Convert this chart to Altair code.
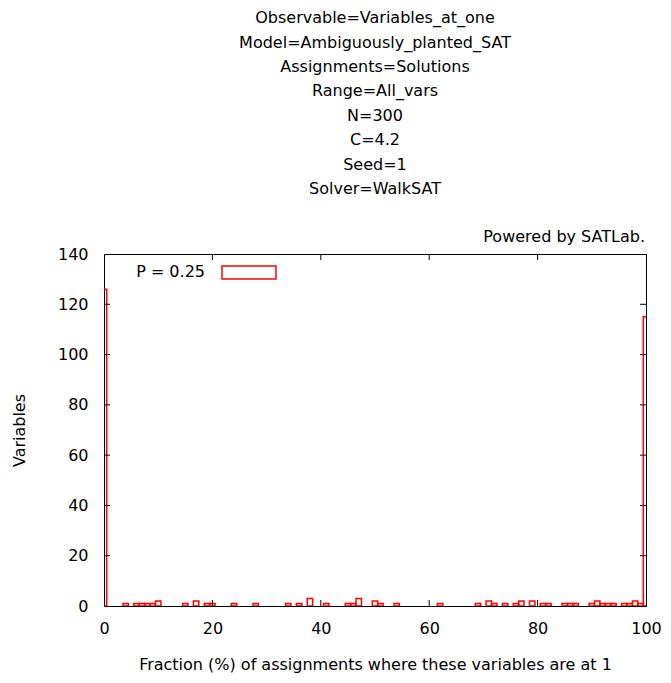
import altair as alt
import pandas as pd

# ---- data ----
title_lines = [
    "Observable=Variables_at_one",
    "Model=Ambiguously_planted_SAT",
    "Assignments=Solutions",
    "Range=All_vars",
    "N=300",
    "C=4.2",
    "Seed=1",
    "Solver=WalkSAT",
]
credit = "Powered by SATLab."
series_label = "P = 0.25"
x_title = "Fraction (%) of assignments where these variables are at 1"
y_title = "Variables"

centers = [0, 4, 6, 7, 8, 9, 10, 15, 17, 19, 20, 24, 28, 34, 36, 38, 41, 45, 46, 47,
           50, 51, 54, 62, 69, 71, 72, 74, 76, 77, 79, 81, 82, 85, 86, 87, 90, 91, 92,
           93, 94, 96, 97, 98, 99, 100]
counts = [126, 1, 1, 1, 1, 1, 2, 1, 2, 1, 1, 1, 1, 1, 1, 3, 1, 1, 1, 3,
          2, 1, 1, 1, 1, 2, 1, 1, 1, 2, 2, 1, 1, 1, 1, 1, 1, 2, 1,
          1, 1, 1, 1, 2, 1, 115]

x_ticks = [0, 20, 40, 60, 80, 100]
y_ticks = [0, 20, 40, 60, 80, 100, 120, 140]

FONT = "DejaVu Sans"
FS = 16
W, H = 542, 352

bars_df = pd.DataFrame({"center": centers, "count": counts})
xt_df = pd.DataFrame({"v": x_ticks[1:-1]})
yt_df = pd.DataFrame({"v": y_ticks[1:-1]})

x_scale = alt.Scale(domain=[x_ticks[0], x_ticks[-1]], nice=False, zero=False)
y_scale = alt.Scale(domain=[y_ticks[0], y_ticks[-1]], nice=False)
x_axis = alt.Axis(values=x_ticks, labelPadding=14, titlePadding=20, labelFlush=False)
y_axis = alt.Axis(values=y_ticks, labelPadding=16, titlePadding=30, labelFlush=False)


def xenc(field):
    return alt.X(field, scale=x_scale, axis=x_axis, title=x_title)


def yenc(field):
    return alt.Y(field, scale=y_scale, axis=y_axis, title=y_title)


bars = alt.Chart(bars_df).transform_calculate(
    lo="datum.center - 0.5", hi="datum.center + 0.5"
).mark_rect(fill="white", fillOpacity=0, stroke="#ff0000", strokeWidth=1.5, clip=True).encode(
    x=xenc("lo:Q"),
    x2="hi:Q",
    y=yenc("count:Q"),
    y2=alt.datum(0),
)

tick_style = dict(color="black", strokeWidth=1)
xt_bottom = alt.Chart(xt_df).mark_rule(**tick_style).encode(
    x=xenc("v:Q"), y=alt.value(H), y2=alt.value(H - 6))
xt_top = alt.Chart(xt_df).mark_rule(**tick_style).encode(
    x=xenc("v:Q"), y=alt.value(0), y2=alt.value(6))
yt_left = alt.Chart(yt_df).mark_rule(**tick_style).encode(
    y=yenc("v:Q"), x=alt.value(0), x2=alt.value(6))
yt_right = alt.Chart(yt_df).mark_rule(**tick_style).encode(
    y=yenc("v:Q"), x=alt.value(W), x2=alt.value(W - 6))

legend_text = alt.Chart(pd.DataFrame({"t": [series_label]})).mark_text(
    font=FONT, fontSize=FS, color="black", align="right", baseline="middle"
).encode(text="t:N", x=alt.value(101), y=alt.value(18))
legend_box = alt.Chart(pd.DataFrame({"t": [series_label]})).mark_rect(
    fill="white", stroke="#ff0000", strokeWidth=1.5
).encode(x=alt.value(118), x2=alt.value(172), y=alt.value(12), y2=alt.value(25))

credit_text = alt.Chart(pd.DataFrame({"t": [credit]})).mark_text(
    font=FONT, fontSize=FS, color="black", align="right", baseline="middle"
).encode(text="t:N", x=alt.value(W - 1), y=alt.value(-17))

chart = alt.layer(
    bars, xt_bottom, xt_top, yt_left, yt_right, legend_box, legend_text, credit_text
).properties(
    width=W, height=H,
    title=alt.TitleParams(
        text=title_lines, anchor="middle", font=FONT, fontSize=FS, fontWeight="normal",
        lineHeight=24.4, baseline="bottom", offset=16, color="black", frame="group",
    ),
    autosize=alt.AutoSizeParams(type="none"),
    padding={"left": 96, "top": 246, "right": 17, "bottom": 68},
).configure_view(
    stroke="black", strokeWidth=1
).configure_axis(
    labelFont=FONT, labelFontSize=FS, labelColor="black",
    titleFont=FONT, titleFontSize=FS, titleFontWeight="normal", titleColor="black",
    domain=False, ticks=False, grid=False,
)

chart.save("out.html", embed_options={"renderer": "svg", "actions": False})
